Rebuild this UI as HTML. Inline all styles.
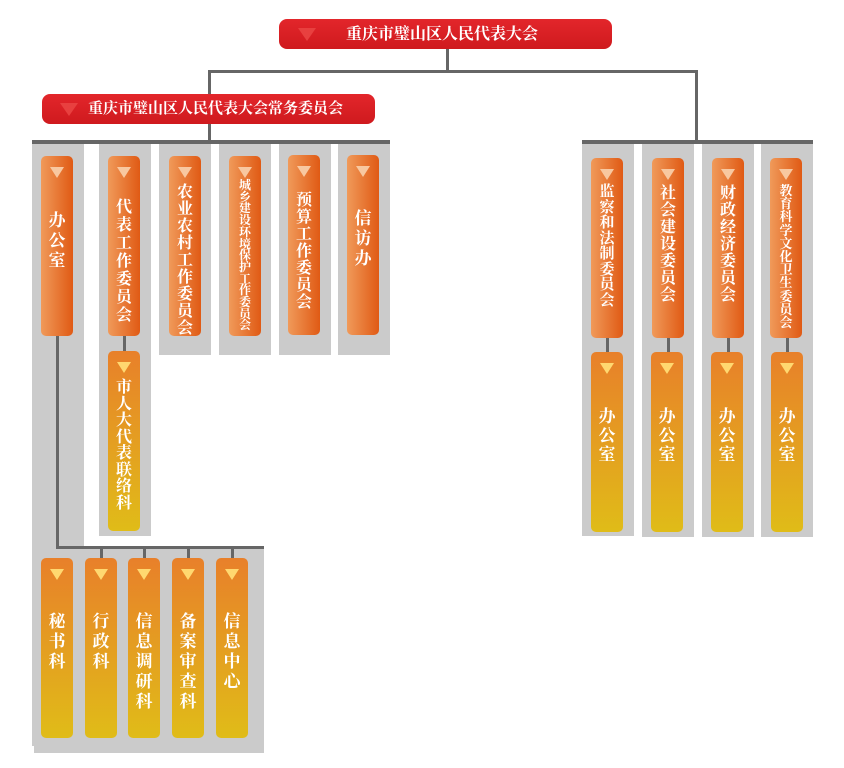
<!DOCTYPE html>
<html><head><meta charset="utf-8"><style>
body{margin:0;width:844px;height:768px;background:#fff;position:relative;overflow:hidden;font-family:"Liberation Serif","Noto Serif CJK SC",serif;}
div{position:absolute;box-sizing:border-box;}
.g{background:#cbcbcb;}
.l{background:#666;}
.h{background:linear-gradient(#e3262b,#cf1a1e);border-radius:8px;color:#fff;font-weight:bold;font-size:16px;line-height:31px;}
.h .t{left:14px;top:9px;width:0;height:0;border-left:9px solid transparent;border-right:9px solid transparent;border-top:13px solid #e8403f;}
.o{background:linear-gradient(90deg,#f09a5a,#e05a14);border-radius:5px;width:32px;height:180px;}
.y{background:linear-gradient(#e8802a,#e0bc18);border-radius:5px;width:32px;height:180px;}
.o .t,.y .t{left:9px;top:11px;width:0;height:0;border-left:7px solid transparent;border-right:7px solid transparent;border-top:11px solid #f8c8a0;}
.y .t{border-top-color:#ffd870;}
.tx{left:0;width:32px;color:#fff;font-weight:bold;text-align:center;word-break:break-all;padding:0 7px;}
</style></head><body>
<div class="g" style="left:32px;top:142px;width:52px;height:604px"></div>
<div class="g" style="left:34px;top:548px;width:230px;height:205px"></div>
<div class="g" style="left:99px;top:142px;width:52px;height:394px"></div>
<div class="g" style="left:159px;top:142px;width:52px;height:213px"></div>
<div class="g" style="left:219px;top:142px;width:52px;height:213px"></div>
<div class="g" style="left:279px;top:142px;width:52px;height:213px"></div>
<div class="g" style="left:338px;top:142px;width:52px;height:213px"></div>
<div class="g" style="left:582px;top:142px;width:52px;height:394px"></div>
<div class="g" style="left:642px;top:142px;width:52px;height:395px"></div>
<div class="g" style="left:702px;top:142px;width:52px;height:395px"></div>
<div class="g" style="left:761px;top:142px;width:52px;height:395px"></div>
<div class="l" style="left:446px;top:47px;width:3px;height:26px"></div>
<div class="l" style="left:208px;top:70px;width:490px;height:3px"></div>
<div class="l" style="left:208px;top:70px;width:3px;height:25px"></div>
<div class="l" style="left:695px;top:70px;width:3px;height:73px"></div>
<div class="l" style="left:208px;top:122px;width:3px;height:20px"></div>
<div class="l" style="left:32px;top:140px;width:358px;height:4px"></div>
<div class="l" style="left:582px;top:140px;width:231px;height:4px"></div>
<div class="l" style="left:56px;top:336px;width:3px;height:213px"></div>
<div class="l" style="left:56px;top:546px;width:208px;height:3px"></div>
<div class="l" style="left:123px;top:336px;width:3px;height:16px"></div>
<div class="l" style="left:100px;top:548px;width:3px;height:10px"></div>
<div class="l" style="left:143px;top:548px;width:3px;height:10px"></div>
<div class="l" style="left:187px;top:548px;width:3px;height:10px"></div>
<div class="l" style="left:231px;top:548px;width:3px;height:10px"></div>
<div class="l" style="left:606px;top:338px;width:3px;height:14px"></div>
<div class="l" style="left:667px;top:338px;width:3px;height:14px"></div>
<div class="l" style="left:727px;top:338px;width:3px;height:14px"></div>
<div class="l" style="left:786px;top:338px;width:3px;height:14px"></div>
<div class="h" style="left:279px;top:19px;width:333px;height:30px"><div class="t" style="left:19px"></div><div style="left:67px;top:0;white-space:nowrap">重庆市璧山区人民代表大会</div></div>
<div class="h" style="left:42px;top:94px;width:333px;height:30px;font-size:15px"><div class="t" style="left:18px"></div><div style="left:46px;top:0;white-space:nowrap">重庆市璧山区人民代表大会常务委员会</div></div>
<div class="o" style="left:41px;top:156px"><div class="t"></div><div class="tx" style="font-size:17px;line-height:20px;top:55px">办公室</div></div>
<div class="o" style="left:108px;top:156px"><div class="t"></div><div class="tx" style="top:43px;font-size:16px;line-height:18px">代表工作委员会</div></div>
<div class="y" style="left:108px;top:351px"><div class="t"></div><div class="tx" style="top:29px;font-size:16px;line-height:16.5px">市人大代表联络科</div></div>
<div class="o" style="left:169px;top:156px"><div class="t"></div><div class="tx" style="top:28px;font-size:16px;line-height:17px">农业农村工作委员会</div></div>
<div class="o" style="left:229px;top:156px"><div class="t"></div><div class="tx" style="top:24px;font-size:12px;line-height:11.7px;padding:0 9px">城乡建设环境保护工作委员会</div></div>
<div class="o" style="left:288px;top:155px"><div class="t"></div><div class="tx" style="top:37px;font-size:16px;line-height:17px">预算工作委员会</div></div>
<div class="o" style="left:347px;top:155px"><div class="t"></div><div class="tx" style="top:54px;font-size:17px;line-height:20px">信访办</div></div>
<div class="y" style="left:41px;top:558px"><div class="t"></div><div class="tx" style="top:54px;font-size:17px;line-height:20px">秘书科</div></div>
<div class="y" style="left:85px;top:558px"><div class="t"></div><div class="tx" style="top:54px;font-size:17px;line-height:20px">行政科</div></div>
<div class="y" style="left:128px;top:558px"><div class="t"></div><div class="tx" style="top:54px;font-size:17px;line-height:20px">信息调研科</div></div>
<div class="y" style="left:172px;top:558px"><div class="t"></div><div class="tx" style="top:54px;font-size:17px;line-height:20px">备案审查科</div></div>
<div class="y" style="left:216px;top:558px"><div class="t"></div><div class="tx" style="top:54px;font-size:17px;line-height:20px">信息中心</div></div>
<div class="o" style="left:591px;top:158px"><div class="t"></div><div class="tx" style="top:27px;font-size:15px;line-height:15.5px">监察和法制委员会</div></div>
<div class="o" style="left:652px;top:158px"><div class="t"></div><div class="tx" style="top:27px;font-size:16px;line-height:17px">社会建设委员会</div></div>
<div class="o" style="left:712px;top:158px"><div class="t"></div><div class="tx" style="top:27px;font-size:16px;line-height:17px">财政经济委员会</div></div>
<div class="o" style="left:770px;top:158px"><div class="t"></div><div class="tx" style="top:26px;font-size:13px;line-height:13.2px;padding:0 9px">教育科学文化卫生委员会</div></div>
<div class="y" style="left:591px;top:352px"><div class="t"></div><div class="tx" style="top:55px;font-size:17px;line-height:19px">办公室</div></div>
<div class="y" style="left:651px;top:352px"><div class="t"></div><div class="tx" style="top:55px;font-size:17px;line-height:19px">办公室</div></div>
<div class="y" style="left:711px;top:352px"><div class="t"></div><div class="tx" style="top:55px;font-size:17px;line-height:19px">办公室</div></div>
<div class="y" style="left:771px;top:352px"><div class="t"></div><div class="tx" style="top:55px;font-size:17px;line-height:19px">办公室</div></div>
</body></html>
